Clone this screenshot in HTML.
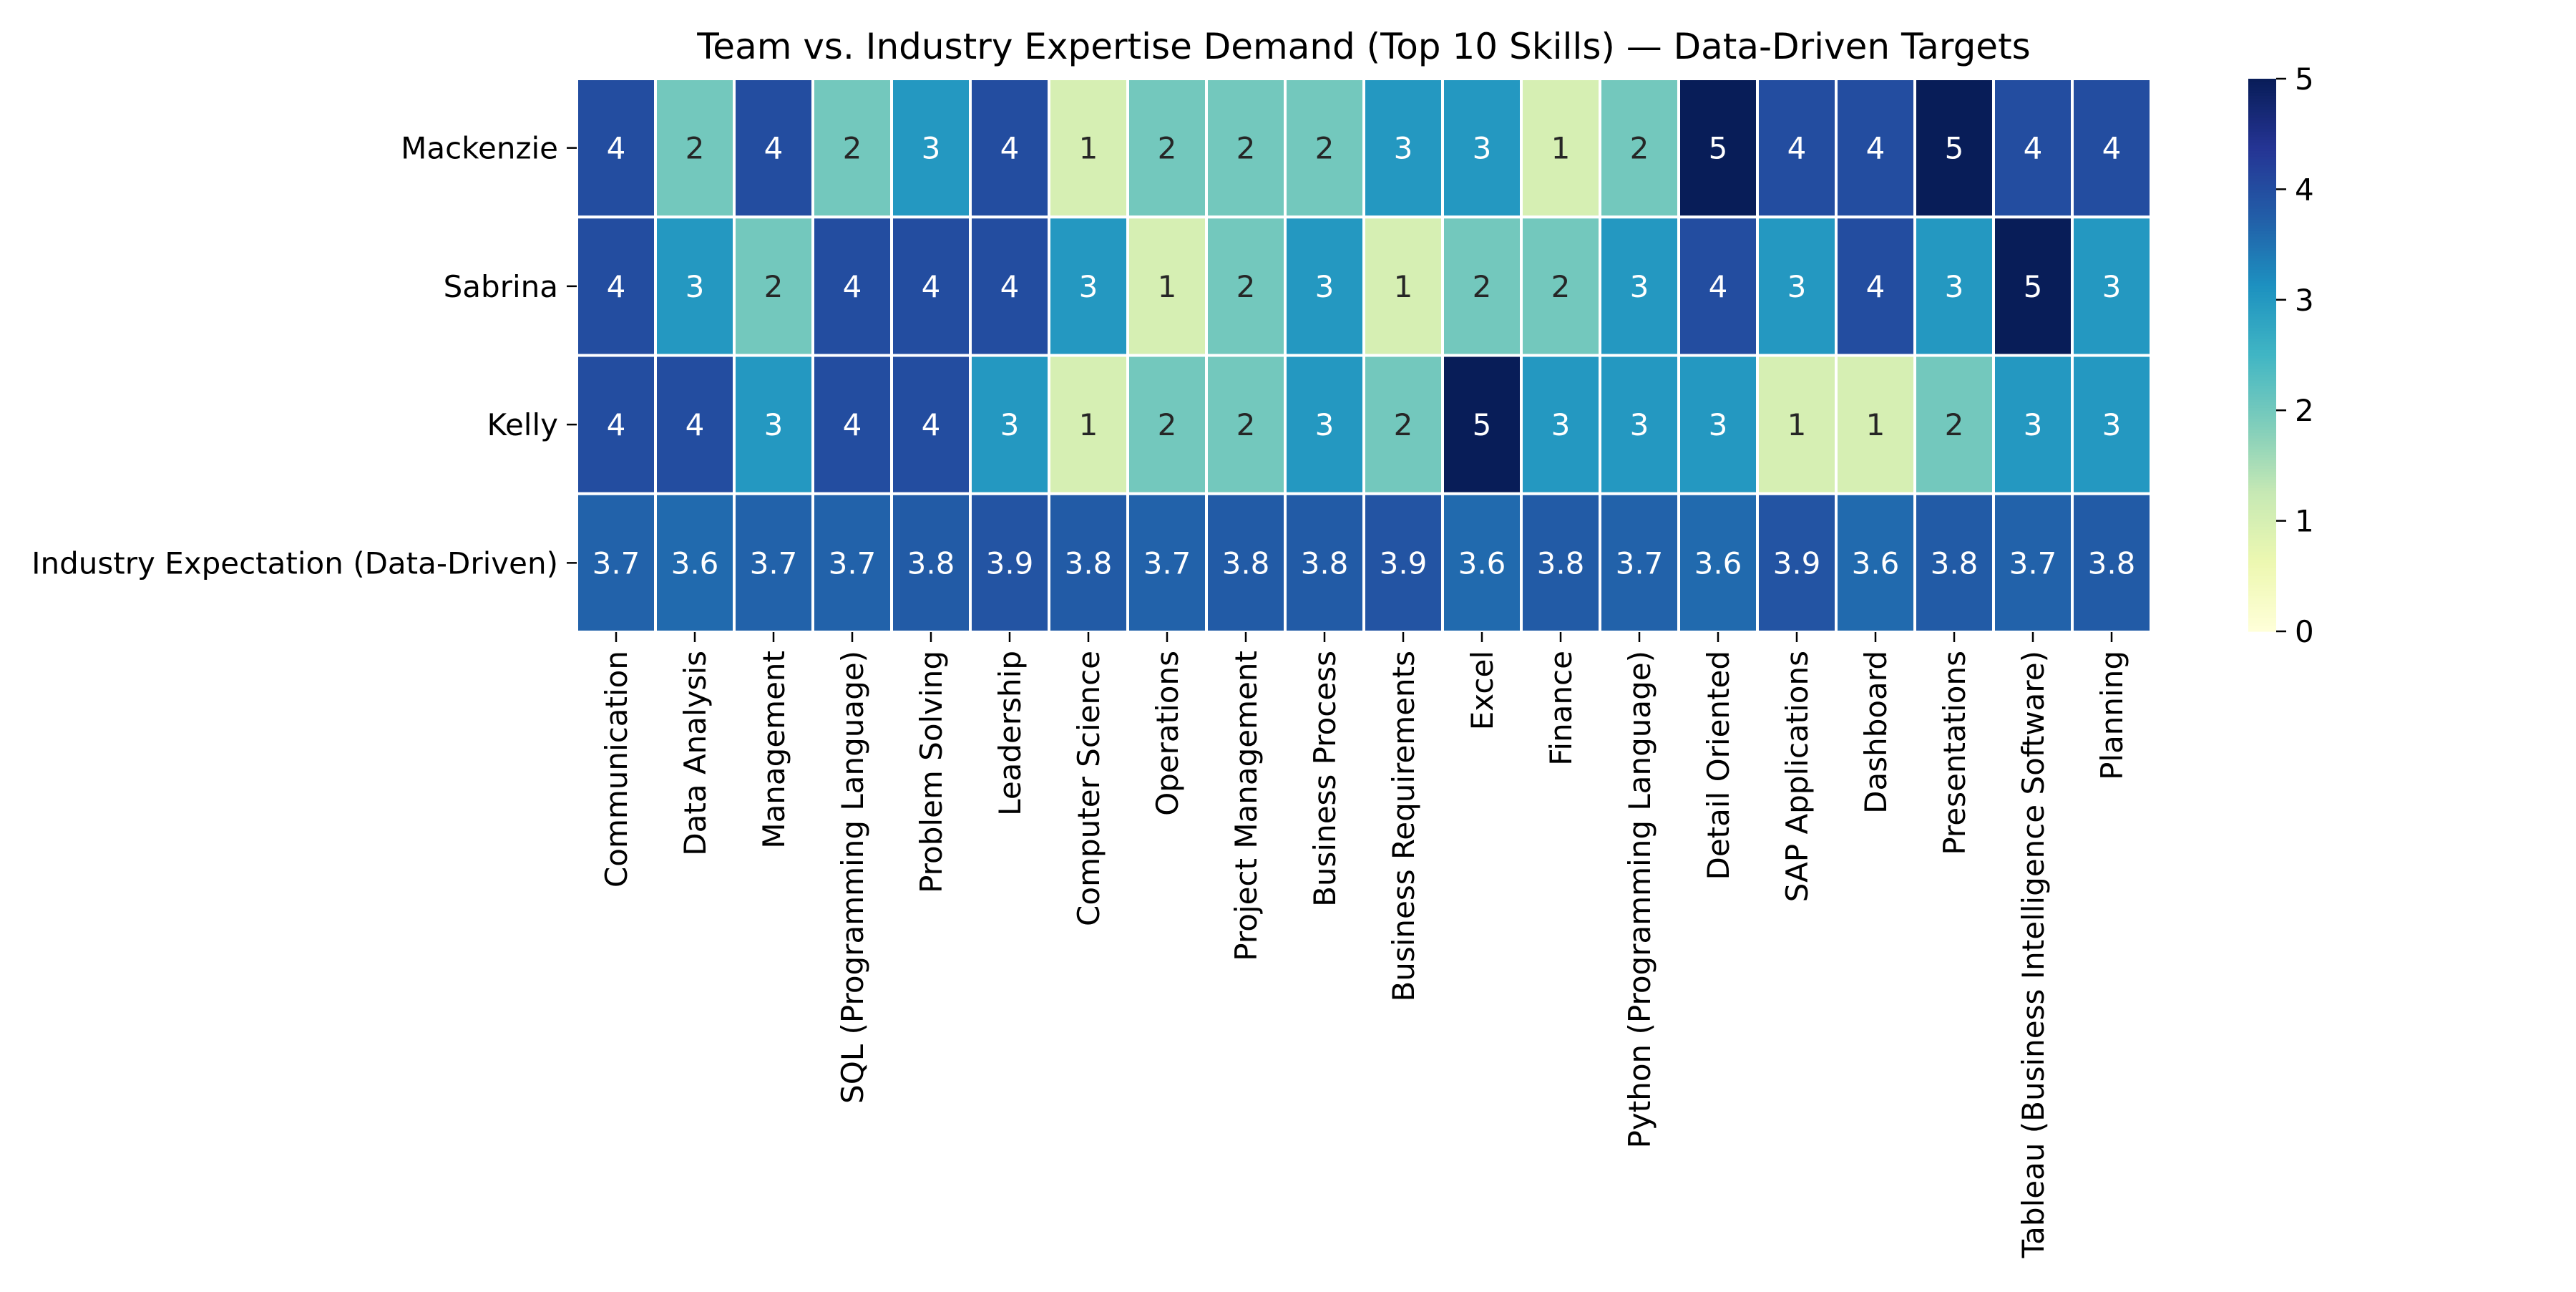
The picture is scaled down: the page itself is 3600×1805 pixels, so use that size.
<!DOCTYPE html>
<html><head><meta charset="utf-8"><style>
html,body{margin:0;padding:0;background:#fff}
svg text{font-family:"DejaVu Sans","Liberation Sans",sans-serif}
</style></head><body>
<svg id="chart" width="3600" height="1800" viewBox="0 0 3600 1800" xmlns="http://www.w3.org/2000/svg">
<rect width="3600" height="1800" fill="#fff"/>
<text x="1906" y="82" font-size="50" text-anchor="middle" fill="#000">Team vs. Industry Expertise Demand (Top 10 Skills) — Data-Driven Targets</text>
<g id="cells"></g><g id="xaxis"></g><g id="yaxis"></g><g id="cbar"></g>
</svg>
<script>
const skills=["Communication","Data Analysis","Management","SQL (Programming Language)","Problem Solving","Leadership","Computer Science","Operations","Project Management","Business Process","Business Requirements","Excel","Finance","Python (Programming Language)","Detail Oriented","SAP Applications","Dashboard","Presentations","Tableau (Business Intelligence Software)","Planning"];
const rowsLabels=["Mackenzie","Sabrina","Kelly","Industry Expectation (Data-Driven)"];
const mackenzie=[4,2,4,2,3,4,1,2,2,2,3,3,1,2,5,4,4,5,4,4];
const sabrina=[4,3,2,4,4,4,3,1,2,3,1,2,2,3,4,3,4,3,5,3];
const kelly=[4,4,3,4,4,3,1,2,2,3,2,5,3,3,3,1,1,2,3,3];
const industry=[3.7,3.6,3.7,3.7,3.8,3.9,3.8,3.7,3.8,3.8,3.9,3.6,3.8,3.7,3.6,3.9,3.6,3.8,3.7,3.8];
const cbTicks=[0,1,2,3,4,5];
const series=[mackenzie,sabrina,kelly,industry];
const NS="http://www.w3.org/2000/svg";
const X0=806,X1=3006,Y0=110,Y1=883,VMIN=0,VMAX=5,FS=42;
const cw=(X1-X0)/skills.length, rh=(Y1-Y0)/rowsLabels.length;
const xPos=i=>X0+i*cw, yPos=j=>Y0+j*rh;
const stops=["#ffffd9","#edf8b1","#c7e9b4","#7fcdbb","#41b6c4","#1d91c0","#225ea8","#253494","#081d58"];
function hex(h){return [1,3,5].map(i=>parseInt(h.substr(i,2),16));}
function cmap(v){let t=Math.max(0,Math.min(1,(v-VMIN)/(VMAX-VMIN)))*(stops.length-1);let i=Math.min(Math.floor(t),stops.length-2),f=t-i;const a=hex(stops[i]),b=hex(stops[i+1]);const c=a.map((x,k)=>Math.round(x+(b[k]-x)*f));return `rgb(${c[0]},${c[1]},${c[2]})`;}
function el(tag,attrs,parent,text){const e=document.createElementNS(NS,tag);for(const k in attrs)e.setAttribute(k,attrs[k]);if(text!==undefined)e.textContent=text;parent.appendChild(e);return e;}
const gC=document.getElementById('cells');
series.forEach((row,j)=>{row.forEach((v,i)=>{
 const r=el('rect',{x:xPos(i),y:yPos(j),width:cw,height:rh,fill:cmap(v),stroke:'#fff','stroke-width':4},gC);
 
 
 const t=el('text',{x:xPos(i)+cw/2,y:yPos(j)+rh/2+15,'font-size':FS,'text-anchor':'middle',fill:v>=2.5?'#fff':'#262626'},gC,String(v));
 
 
});});
const gX=document.getElementById('xaxis');
skills.forEach((s,i)=>{const cx=xPos(i)+cw/2;
 el('line',{x1:cx,x2:cx,y1:Y1,y2:Y1+14,stroke:'#000','stroke-width':2.5},gX);
 const t=el('text',{x:0,y:0,'font-size':FS,'text-anchor':'end',transform:`translate(${cx+15},${Y1+26}) rotate(-90)`,fill:'#000'},gX,s);
 
 
});
const gY=document.getElementById('yaxis');
rowsLabels.forEach((s,j)=>{const cy=yPos(j)+rh/2;
 el('line',{x1:X0-14,x2:X0,y1:cy,y2:cy,stroke:'#000','stroke-width':2.5},gY);
 const t=el('text',{x:X0-26,y:cy+15,'font-size':FS,'text-anchor':'end',fill:'#000'},gY,s);
 
 
});
const gB=document.getElementById('cbar');
const CBX=3142,CBW=39,CBY0=110,CBY1=882,N=200;
for(let k=0;k<N;k++){const v=VMIN+(VMAX-VMIN)*(k+0.5)/N;const y=CBY1-(k+1)*(CBY1-CBY0)/N;
 el('rect',{x:CBX,y:y,width:CBW,height:(CBY1-CBY0)/N+0.6,fill:cmap(v)},gB);}
const cbY=v=>CBY1-(v-VMIN)/(VMAX-VMIN)*(CBY1-CBY0);
cbTicks.forEach(v=>{const y=cbY(v);
 el('line',{x1:CBX+CBW,x2:CBX+CBW+14,y1:y,y2:y,stroke:'#000','stroke-width':2.5},gB);
 const t=el('text',{x:CBX+CBW+26,y:y+15,'font-size':FS,fill:'#000'},gB,String(v));
 
 
});
</script>
</body></html>
